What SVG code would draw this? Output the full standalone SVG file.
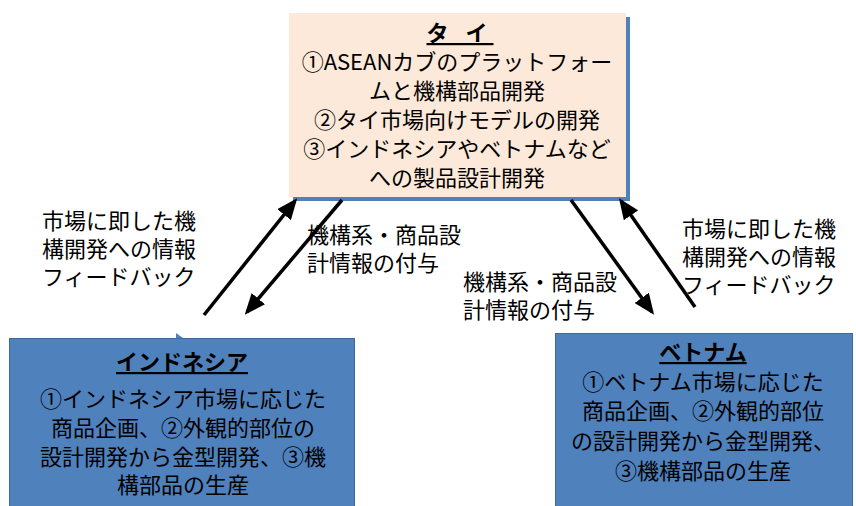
<svg xmlns="http://www.w3.org/2000/svg" width="856" height="506" viewBox="0 0 856 506">
<style>
text{font-family:"Noto Sans CJK JP","Noto Sans CJK SC",sans-serif;fill:#000;text-anchor:middle;}
.b{font-size:22px;}
.t{font-size:22px;font-weight:bold;text-decoration:underline;}
.l{font-size:22px;text-anchor:start;}
.arr{stroke:#000;stroke-width:3.5;fill:none;marker-end:url(#ah);}
</style>
<defs>
<marker id="ah" markerWidth="6" markerHeight="5" refX="5" refY="2.5" orient="auto" markerUnits="strokeWidth">
<path d="M0,0 L6,2.5 L0,5 Z" fill="#000"/>
</marker>
</defs>
<rect width="856" height="506" fill="#fff"/>
<g id="thai">
<rect x="293" y="17" width="337" height="184" fill="#4F81BD"/>
<rect x="289" y="13" width="337" height="184" fill="#FDE9D9"/>
<text class="t" x="460" y="41" letter-spacing="6">タ イ</text>
<text class="b" x="457" y="70">①ASEANカブのプラットフォー</text>
<text class="b" x="457" y="99">ムと機構部品開発</text>
<text class="b" x="457" y="128">②タイ市場向けモデルの開発</text>
<text class="b" x="457" y="157">③インドネシアやベトナムなど</text>
<text class="b" x="457" y="186">への製品設計開発</text>
</g>
<g id="indonesia">
<rect x="9.5" y="338.5" width="345" height="175" fill="#4F81BD" stroke="#3D6A9E" stroke-width="1"/>
<path d="M176,333 L183,338 L176,338 Z" fill="#4F81BD"/>
<text class="t" x="182" y="370">インドネシア</text>
<text class="b" x="183" y="407">①インドネシア市場に応じた</text>
<text class="b" x="183" y="436">商品企画、②外観的部位の</text>
<text class="b" x="183" y="465">設計開発から金型開発、③機</text>
<text class="b" x="183" y="493">構部品の生産</text>
</g>
<g id="vietnam">
<rect x="555.5" y="333.5" width="297" height="180" fill="#4F81BD" stroke="#3D6A9E" stroke-width="1"/>
<text class="t" x="703" y="360">ベトナム</text>
<text class="b" x="703" y="390">①ベトナム市場に応じた</text>
<text class="b" x="703" y="419">商品企画、②外観的部位</text>
<text class="b" x="703" y="449">の設計開発から金型開発、</text>
<text class="b" x="703" y="479">③機構部品の生産</text>
</g>
<g id="connectors">
<line class="arr" x1="204" y1="315" x2="295" y2="201"/>
<line class="arr" x1="342" y1="200" x2="247" y2="312"/>
<line class="arr" x1="571" y1="200" x2="652" y2="312"/>
<line class="arr" x1="695" y1="307" x2="621" y2="201"/>
</g>
<g id="labels">
<text class="l" x="42" y="229">市場に即した機</text>
<text class="l" x="42" y="257">構開発への情報</text>
<text class="l" x="42" y="285">フィードバック</text>
<text class="l" x="307" y="243">機構系・商品設</text>
<text class="l" x="307" y="271">計情報の付与</text>
<text class="l" x="463" y="290">機構系・商品設</text>
<text class="l" x="463" y="318">計情報の付与</text>
<text class="l" x="682" y="237">市場に即した機</text>
<text class="l" x="682" y="265">構開発への情報</text>
<text class="l" x="682" y="293">フィードバック</text>
</g>
</svg>
